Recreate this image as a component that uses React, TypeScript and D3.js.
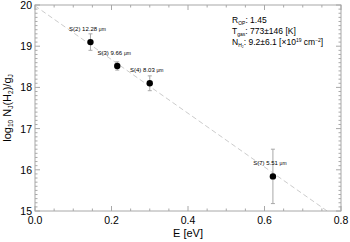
import * as d3 from "d3";

const lines = ["S(2)", "S(3)", "S(4)", "S(7)"];
const wavelengths = ["12.28", "9.66", "8.03", "5.51"];
const energies = [0.145, 0.215, 0.3, 0.622];
const logN = [19.1, 18.52, 18.1, 15.84];
const errs = [0.2, 0.1, 0.18, 0.66];
const fitIntercept = 19.98;
const fitSlope = -6.52;
const xTicks = [0, 0.2, 0.4, 0.6, 0.8];
const yTicks = [15, 16, 17, 18, 19, 20];

const W = 350;
const H = 242;
const M = { top: 5, right: 9, bottom: 31, left: 35 };
const AXIS = "#a8a8a8";
const FONT = "'Liberation Sans', Arial, sans-serif";

export default function App() {
  const x = d3.scaleLinear().domain([0, 0.8]).range([M.left, W - M.right]);
  const y = d3.scaleLinear().domain([15, 20]).range([H - M.bottom, M.top]);
  const [x0, x1] = x.range();
  const [y0, y1] = y.range();

  const xMinor = d3.range(0, 0.8001, 0.05);
  const yMinor = d3.range(15, 20.001, 0.1);

  const fitLine = d3
    .line<number>()
    .x((e) => x(e))
    .y((e) => y(fitIntercept + fitSlope * e));
  const eEnd = (15 - fitIntercept) / fitSlope;

  return (
    <svg
      width={W}
      height={H}
      style={{ position: "absolute", left: 0, top: 0, background: "#fff" }}
      fontFamily={FONT}
    >
      <defs>
        <clipPath id="plot-clip">
          <rect x={x0} y={y1} width={x1 - x0} height={y0 - y1} />
        </clipPath>
      </defs>

      {/* fit */}
      <path
        d={fitLine([0, eEnd]) ?? ""}
        fill="none"
        stroke="#cccccc"
        strokeWidth={1}
        strokeDasharray="5,3"
        clipPath="url(#plot-clip)"
      />

      {/* frame + ticks */}
      <rect x={x0} y={y1} width={x1 - x0} height={y0 - y1} fill="none" stroke={AXIS} strokeWidth={1} />
      {xMinor.map((v, i) => {
        const major = i % 4 === 0;
        const len = major ? 5 : 2.5;
        return (
          <g key={`xm${i}`} stroke={AXIS}>
            <line x1={x(v)} x2={x(v)} y1={y0} y2={y0 - len} />
            <line x1={x(v)} x2={x(v)} y1={y1} y2={y1 + len} />
          </g>
        );
      })}
      {yMinor.map((v, i) => {
        const major = i % 10 === 0;
        const len = major ? 5 : 2.5;
        return (
          <g key={`ym${i}`} stroke={AXIS}>
            <line x1={x0} x2={x0 + len} y1={y(v)} y2={y(v)} />
            <line x1={x1} x2={x1 - len} y1={y(v)} y2={y(v)} />
          </g>
        );
      })}

      {xTicks.map((v) => (
        <text key={`xt${v}`} x={x(v)} y={y0 + 13} fontSize={10.5} textAnchor="middle" fill="#000">
          {v.toFixed(1)}
        </text>
      ))}
      {yTicks.map((v) => (
        <text key={`yt${v}`} x={x0 - 3} y={y(v) + 4} fontSize={10.5} textAnchor="end" fill="#000">
          {v}
        </text>
      ))}

      <text x={(x0 + x1) / 2} y={H - 5} fontSize={11} textAnchor="middle" fill="#000">
        E [eV]
      </text>
      <text
        transform={`translate(11,${(y0 + y1) / 2}) rotate(-90)`}
        fontSize={11}
        textAnchor="middle"
        fill="#000"
      >
        log
        <tspan fontSize={6.5} dy={2}>10</tspan>
        <tspan dy={-2}> N</tspan>
        <tspan fontSize={6.5} dy={2}>J</tspan>
        <tspan dy={-2}>(H</tspan>
        <tspan fontSize={6.5} dy={2}>2</tspan>
        <tspan dy={-2}>)/g</tspan>
        <tspan fontSize={6.5} dy={2}>J</tspan>
      </text>

      {/* points */}
      {energies.map((e, i) => (
        <g key={lines[i]}>
          <line x1={x(e)} x2={x(e)} y1={y(logN[i] - errs[i])} y2={y(logN[i] + errs[i])} stroke={AXIS} />
          <line x1={x(e) - 2} x2={x(e) + 2} y1={y(logN[i] - errs[i])} y2={y(logN[i] - errs[i])} stroke={AXIS} />
          <line x1={x(e) - 2} x2={x(e) + 2} y1={y(logN[i] + errs[i])} y2={y(logN[i] + errs[i])} stroke={AXIS} />
          <circle cx={x(e)} cy={y(logN[i])} r={3.2} fill="#000" />
          <text x={x(e) - 3} y={y(logN[i]) - 11} fontSize={6} textAnchor="middle" fill="#000">
            {lines[i]}  {wavelengths[i]} <tspan fontSize={5}>μm</tspan>
          </text>
        </g>
      ))}

      {/* annotation */}
      <g fontSize={8.5} fill="#000">
        <text x={232} y={23}>
          R<tspan fontSize={5} dy={2}>OP</tspan>
          <tspan dy={-2}>: 1.45</tspan>
        </text>
        <text x={232} y={34}>
          T<tspan fontSize={5} dy={2}>gas</tspan>
          <tspan dy={-2}>:  773±146 [K]</tspan>
        </text>
        <text x={232} y={45}>
          N<tspan fontSize={5} dy={2}>H₂</tspan>
          <tspan dy={-2}>: 9.2±6.1 [×10</tspan>
          <tspan fontSize={5} dy={-3}>19</tspan>
          <tspan dy={3}> cm</tspan>
          <tspan fontSize={5} dy={-3}>−2</tspan>
          <tspan dy={3}>]</tspan>
        </text>
      </g>
    </svg>
  );
}
